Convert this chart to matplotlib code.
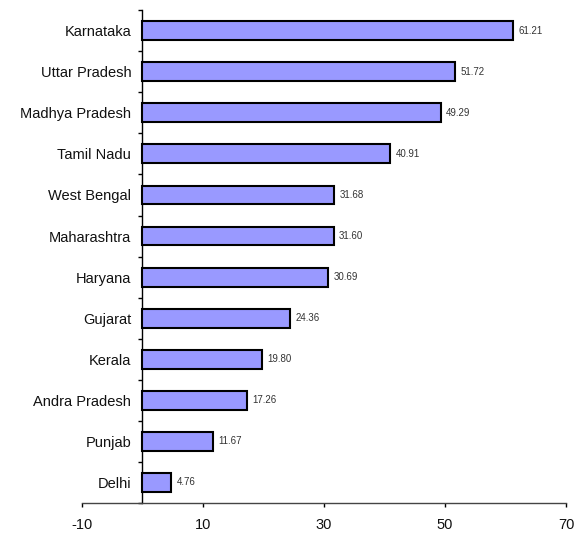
import matplotlib
matplotlib.use('Agg')
import matplotlib.pyplot as plt
from matplotlib.ticker import FixedLocator
import numpy as np

matplotlib.rcParams['font.family'] = ['Liberation Sans', 'DejaVu Sans']

# data, top to bottom as in the chart
states = ['Karnataka', 'Uttar Pradesh', 'Madhya Pradesh', 'Tamil Nadu', 'West Bengal',
          'Maharashtra', 'Haryana', 'Gujarat', 'Kerala', 'Andra Pradesh', 'Punjab', 'Delhi']
values = [61.21, 51.72, 49.29, 40.91, 31.68, 31.60, 30.69, 24.36, 19.80, 17.26, 11.67, 4.76]
xticks = [-10, 10, 30, 50, 70]

fig = plt.figure(figsize=(5.85, 5.34), dpi=100)
ax = fig.add_axes([0.140, 0.058, 0.8275, 0.923])

pos = np.arange(len(states))
ax.barh(pos, values, height=0.46, color='#9999FF', edgecolor='black', linewidth=1.5, zorder=3)

for p, v in zip(pos, values):
    ax.annotate('%.2f' % v, (v, p), xytext=(4, 0), textcoords='offset points',
                va='center', ha='left', fontsize=7, color='#333333')

ax.set_xlim(-10, 70)
ax.set_ylim(len(states) - 0.5, -0.5)

# spines
ax.spines['top'].set_visible(False)
ax.spines['right'].set_visible(False)
ax.spines['left'].set_position(('data', 0))
ax.spines['left'].set_linewidth(1.0)
ax.spines['bottom'].set_linewidth(1.0)
ax.spines['bottom'].set_color('#444444')

# y: labels at centres, tick marks at category borders
ax.set_yticks(pos)
ax.set_yticklabels(states, fontsize=10.5, color='#111111')
ax.yaxis.set_minor_locator(FixedLocator(np.arange(-0.5, len(states), 1.0)))
ax.tick_params(axis='y', which='major', length=0, pad=8)
ax.tick_params(axis='y', which='minor', length=3, width=1.0, direction='out')

# x axis
ax.set_xticks(xticks)
ax.set_xticklabels([str(t) for t in xticks], fontsize=10.5, color='#111111')
ax.tick_params(axis='x', length=3, width=1.0, direction='out', pad=8)

fig.savefig('out.png', dpi=100)
